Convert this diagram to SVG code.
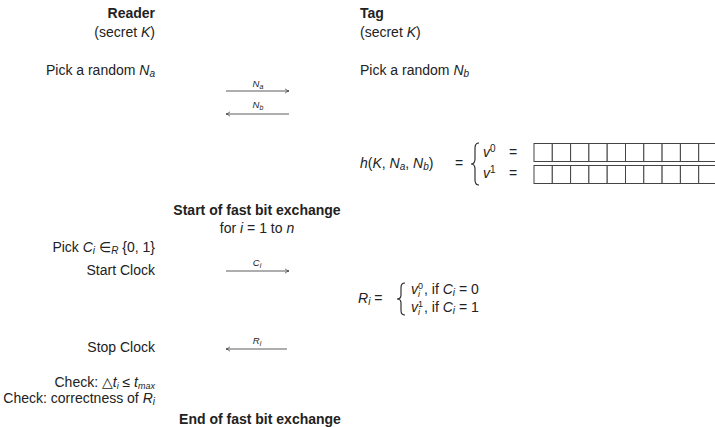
<svg xmlns="http://www.w3.org/2000/svg" width="715" height="427" viewBox="0 0 715 427">
<style>
text{font-family:"Liberation Sans","DejaVu Sans",sans-serif;font-size:14px;fill:#222}
.b{font-weight:bold}
.i{font-style:italic}
.s{font-size:10px}
.t{font-size:9px}
.lbl{font-size:9.5px;font-style:italic;text-anchor:middle}
.e{text-anchor:end}
.ln{stroke:#333;stroke-width:0.8;fill:none}
.cell{stroke:#444;stroke-width:1;fill:#fff}
.br{stroke:#222;stroke-width:1.1;fill:none}
</style>
<defs>
<marker id="ah" markerWidth="6" markerHeight="6" refX="5" refY="3" orient="auto" markerUnits="userSpaceOnUse">
<path d="M1,0.8 Q3,2.6 5,3 Q3,3.4 1,5.2" stroke="#333" stroke-width="0.7" fill="none"/>
</marker>
</defs>
<rect width="715" height="427" fill="#fff"/>

<g id="reader">
<text class="b e" x="155" y="18">Reader</text>
<text class="e" x="155" y="37">(secret <tspan class="i">K</tspan>)</text>
<text class="e" x="155" y="75">Pick a random <tspan class="i">N</tspan><tspan class="i s" dy="2">a</tspan></text>
</g>

<g id="tag">
<text class="b" x="360" y="18">Tag</text>
<text x="360" y="37">(secret <tspan class="i">K</tspan>)</text>
<text x="360" y="75">Pick a random <tspan class="i">N</tspan><tspan class="i s" dy="2">b</tspan></text>
</g>

<g id="hash">
<text x="360" y="168"><tspan class="i">h</tspan>(<tspan class="i">K</tspan>, <tspan class="i">N</tspan><tspan class="i s" dy="2">a</tspan><tspan dy="-2">, </tspan><tspan class="i">N</tspan><tspan class="i s" dy="2">b</tspan><tspan dy="-2">)</tspan></text>
<text x="455" y="168">=</text>
<path class="br" d="M479,143 Q475,143 475,148 L475,159 Q475,164 471,164 Q475,164 475,169 L475,180 Q475,185 479,185"/>
<text x="483" y="157" class="i">v<tspan class="s" dy="-5" font-style="normal">0</tspan></text>
<text x="509" y="157">=</text>
<text x="483" y="178" class="i">v<tspan class="s" dy="-5" font-style="normal">1</tspan></text>
<text x="509" y="178">=</text>
<g id="v0">
<rect class="cell" x="534" y="143.5" width="18.3" height="18"/>
<rect class="cell" x="552.3" y="143.5" width="18.3" height="18"/>
<rect class="cell" x="570.6" y="143.5" width="18.3" height="18"/>
<rect class="cell" x="588.9" y="143.5" width="18.3" height="18"/>
<rect class="cell" x="607.2" y="143.5" width="18.3" height="18"/>
<rect class="cell" x="625.5" y="143.5" width="18.3" height="18"/>
<rect class="cell" x="643.8" y="143.5" width="18.3" height="18"/>
<rect class="cell" x="662.1" y="143.5" width="18.3" height="18"/>
<rect class="cell" x="680.4" y="143.5" width="18.3" height="18"/>
<rect class="cell" x="698.7" y="143.5" width="18.3" height="18"/>
</g>
<g id="v1">
<rect class="cell" x="534" y="165.5" width="18.3" height="18"/>
<rect class="cell" x="552.3" y="165.5" width="18.3" height="18"/>
<rect class="cell" x="570.6" y="165.5" width="18.3" height="18"/>
<rect class="cell" x="588.9" y="165.5" width="18.3" height="18"/>
<rect class="cell" x="607.2" y="165.5" width="18.3" height="18"/>
<rect class="cell" x="625.5" y="165.5" width="18.3" height="18"/>
<rect class="cell" x="643.8" y="165.5" width="18.3" height="18"/>
<rect class="cell" x="662.1" y="165.5" width="18.3" height="18"/>
<rect class="cell" x="680.4" y="165.5" width="18.3" height="18"/>
<rect class="cell" x="698.7" y="165.5" width="18.3" height="18"/>
</g>
</g>

<g id="fast-start">
<text class="b" x="257" y="215" text-anchor="middle">Start of fast bit exchange</text>
<text x="257" y="233" text-anchor="middle">for <tspan class="i">i</tspan> = 1 to <tspan class="i">n</tspan></text>
</g>

<g id="reader-challenge">
<text class="e" x="155" y="252">Pick <tspan class="i">C</tspan><tspan class="i s" dy="2">i</tspan><tspan dy="-2"> ∈</tspan><tspan class="i s" dy="2">R</tspan><tspan dy="-2"> {0, 1}</tspan></text>
<text class="e" x="155" y="275">Start Clock</text>
</g>

<g id="tag-response">
<text x="358" y="303"><tspan class="i">R</tspan><tspan class="i s" dy="2">i</tspan><tspan dy="-2"> =</tspan></text>
<path class="br" d="M405,283 Q401,283 401,287.5 L401,295 Q401,299 397,299 Q401,299 401,303 L401,310.5 Q401,315 405,315"/>
<text x="411" y="294" class="i">v</text>
<text x="418" y="289" class="t">0</text>
<text x="418" y="297" class="i t">i</text>
<text x="424" y="294">, if <tspan class="i">C</tspan><tspan class="i s" dy="2">i</tspan><tspan dy="-2"> = 0</tspan></text>
<text x="411" y="312" class="i">v</text>
<text x="418" y="307" class="t">1</text>
<text x="418" y="315" class="i t">i</text>
<text x="424" y="312">, if <tspan class="i">C</tspan><tspan class="i s" dy="2">i</tspan><tspan dy="-2"> = 1</tspan></text>
</g>

<g id="reader-check">
<text class="e" x="155" y="352">Stop Clock</text>
<text class="e" x="155" y="387">Check: △<tspan class="i">t</tspan><tspan class="i t" dy="1.5">i</tspan><tspan dy="-1.5"> ≤ </tspan><tspan class="i">t</tspan><tspan class="i t" dy="1.5">max</tspan></text>
<text class="e" x="155" y="403">Check: correctness of <tspan class="i">R</tspan><tspan class="i s" dy="2">i</tspan></text>
</g>

<g id="fast-end">
<text class="b" x="260" y="424" text-anchor="middle">End of fast bit exchange</text>
</g>

<g id="connectors">
<line class="ln" x1="226" y1="91" x2="289" y2="91" marker-end="url(#ah)"/>
<text class="lbl" x="258" y="87">N<tspan dy="1.5" font-size="7">a</tspan></text>
<line class="ln" x1="289" y1="114" x2="226" y2="114" marker-end="url(#ah)"/>
<text class="lbl" x="258" y="108">N<tspan dy="1.5" font-size="7">b</tspan></text>
<line class="ln" x1="226" y1="271" x2="289" y2="271" marker-end="url(#ah)"/>
<text class="lbl" x="257" y="266">C<tspan dy="1.5" font-size="7">i</tspan></text>
<line class="ln" x1="287" y1="349" x2="226" y2="349" marker-end="url(#ah)"/>
<text class="lbl" x="257" y="344">R<tspan dy="1.5" font-size="7">i</tspan></text>
</g>
</svg>
